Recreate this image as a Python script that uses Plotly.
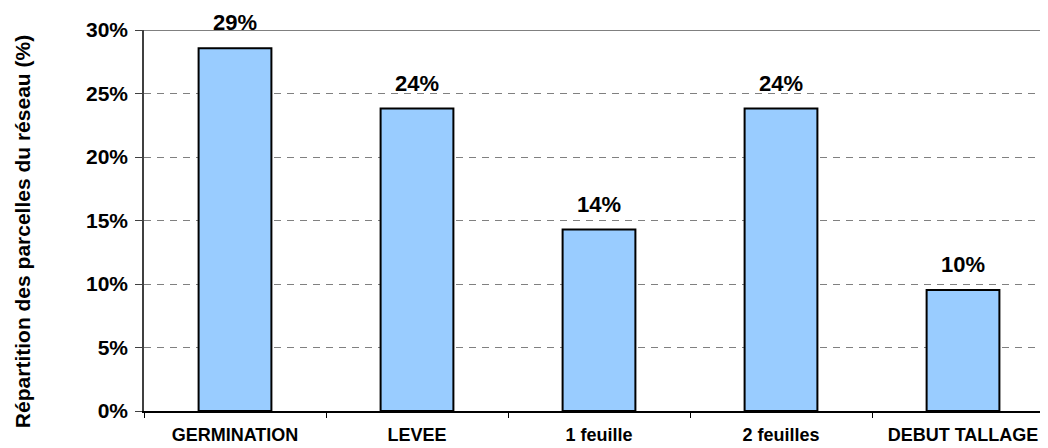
import plotly.graph_objects as go

categories = ["GERMINATION", "LEVEE", "1 feuille", "2 feuilles", "DEBUT TALLAGE"]
values = [28.57, 23.81, 14.29, 23.81, 9.52]
y_ticks = [0, 5, 10, 15, 20, 25, 30]
y_tick_labels = ["0%", "5%", "10%", "15%", "20%", "25%", "30%"]
y_title = "Répartition des parcelles du réseau (%)"

FONT = "Arial, Liberation Sans, sans-serif"

fig = go.Figure()
fig.add_trace(go.Bar(
    x=categories, y=values, width=0.4,
    marker=dict(color="#99CCFF", line=dict(color="#000000", width=2)),
    hoverinfo="skip",
))

for c, v in zip(categories, values):
    fig.add_annotation(
        x=c, y=v, text=f"{round(v)}%", showarrow=False,
        yanchor="bottom", yshift=11,
        font=dict(family=FONT, size=22, color="#000000", weight=700),
    )

# y-axis title placed as annotation
fig.add_annotation(
    xref="paper", yref="paper", x=-0.135, y=0.472, text=y_title,
    textangle=-90, showarrow=False, xanchor="center", yanchor="middle",
    font=dict(family=FONT, size=21, color="#000000", weight=700),
)

fig.add_shape(type="line", xref="paper", yref="y", x0=0, x1=1, y0=30, y1=30,
              line=dict(color="#808080", width=2), layer="above")

# page has 8px body margin: figure offset by 8px
fig.update_layout(
    width=1040, height=440,
    margin=dict(l=136, r=0, t=22, b=37, autoexpand=False),
    paper_bgcolor="white", plot_bgcolor="white",
    showlegend=False,
    font=dict(family=FONT, color="#000000"),
    xaxis=dict(
        type="category", range=[-0.5, 4.467], automargin=False,
        showline=True, linecolor="#000000", linewidth=1.5,
        ticks="outside", tickson="boundaries", ticklen=5, tickcolor="#000000",
        showgrid=False, ticklabelstandoff=7,
        tickfont=dict(family=FONT, size=18, color="#000000", weight=700),
    ),
    yaxis=dict(
        range=[0, 30], tickvals=y_ticks, ticktext=y_tick_labels, automargin=False,
        showline=True, linecolor="#404040", linewidth=1.5,
        ticks="outside", ticklen=7, tickcolor="#404040",
        showgrid=True, gridcolor="#808080", gridwidth=1, griddash="7px,6px",
        zeroline=False, ticklabelstandoff=3,
        tickfont=dict(family=FONT, size=21, color="#000000", weight=700),
    ),
)

fig.write_html("out.html")
